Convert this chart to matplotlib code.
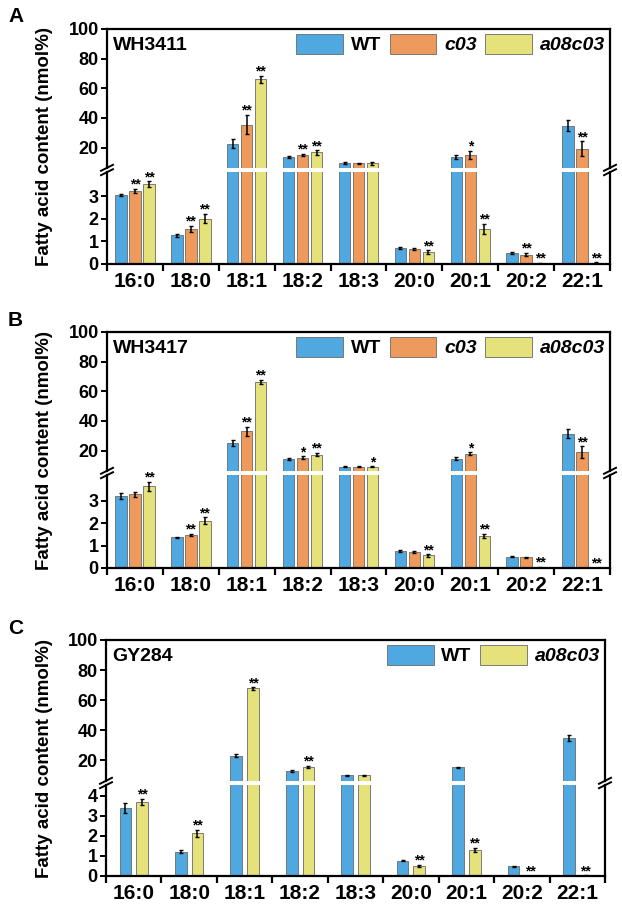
import matplotlib
matplotlib.use('Agg')
import matplotlib.pyplot as plt
import numpy as np
from matplotlib.lines import Line2D

plt.rcParams['font.family'] = ['Liberation Sans', 'DejaVu Sans']
plt.rcParams['font.weight'] = 'bold'

cats = ['16:0', '18:0', '18:1', '18:2', '18:3', '20:0', '20:1', '20:2', '22:1']

# panel A - WH3411
wt_a = [3.05, 1.27, 22.7, 13.6, 9.6, 0.70, 13.5, 0.48, 34.8]
wt_a_err = [0.05, 0.08, 3.0, 0.8, 0.5, 0.04, 1.5, 0.04, 3.5]
c03_a = [3.25, 1.56, 35.5, 14.9, 9.4, 0.67, 15.1, 0.42, 19.1]
c03_a_err = [0.10, 0.12, 6.5, 0.8, 0.5, 0.05, 2.5, 0.07, 5.0]
a08_a = [3.55, 2.02, 66.0, 16.7, 9.5, 0.53, 1.56, 0.03, 0.05]
a08_a_err = [0.12, 0.22, 2.5, 1.5, 1.0, 0.08, 0.22, 0.02, 0.02]
c03_a_sig = ['**', '**', '**', '**', '', '', '*', '**', '**']
a08_a_sig = ['**', '**', '**', '**', '', '**', '**', '**', '**']

# panel B - WH3417
wt_b = [3.20, 1.37, 24.9, 14.5, 9.1, 0.76, 14.5, 0.50, 31.3]
wt_b_err = [0.12, 0.03, 2.0, 0.8, 0.3, 0.04, 1.0, 0.03, 3.0]
c03_b = [3.27, 1.47, 32.9, 15.3, 9.1, 0.71, 18.0, 0.48, 18.9]
c03_b_err = [0.12, 0.05, 3.0, 0.8, 0.3, 0.04, 0.8, 0.03, 4.0]
a08_b = [3.64, 2.10, 66.1, 17.3, 9.1, 0.56, 1.43, 0.03, 0.0]
a08_b_err = [0.20, 0.15, 1.5, 1.2, 0.3, 0.05, 0.10, 0.01, 0.0]
c03_b_sig = ['', '**', '**', '*', '', '', '*', '', '**']
a08_b_sig = ['**', '**', '**', '**', '*', '**', '**', '**', '**']

# panel C - GY284
wt_c = [3.37, 1.22, 23.1, 12.7, 9.9, 0.77, 15.2, 0.49, 34.8]
wt_c_err = [0.25, 0.07, 1.2, 0.5, 0.4, 0.03, 0.5, 0.02, 2.0]
a08_c = [3.68, 2.13, 67.8, 15.6, 10.1, 0.50, 1.30, 0.0, 0.02]
a08_c_err = [0.15, 0.18, 0.8, 0.8, 0.3, 0.06, 0.12, 0.0, 0.01]
a08_c_sig = ['**', '**', '**', '**', '', '**', '**', '**', '**']

col_wt = '#4FA9E0'
col_c03 = '#EE9A5C'
col_a08 = '#E5E27C'
edge = '#6a6a6a'

W, H = 622, 915
fig = plt.figure(figsize=(W / 100, H / 100), dpi=100)


def fy(py):
    return 1 - py / H


def brk_mark(xpx, ypx):
    for d in (-2.2, 2.2):
        fig.add_artist(Line2D([(xpx - 6) / W, (xpx + 6) / W],
                              [fy(ypx + d + 3), fy(ypx + d - 3)],
                              color='black', lw=1.4))


def panel(letter, strain, top, brk, bot, left, right, lo_top, lo_ticks, series):
    gap = 1.7
    ax_up = fig.add_axes([left / W, fy(brk - gap), (right - left) / W, (brk - gap - top) / H])
    ax_lo = fig.add_axes([left / W, fy(bot), (right - left) / W, (bot - brk - gap) / H])
    x = np.arange(len(cats))
    n = len(series)
    if n == 3:
        offs, bw = [-0.25, 0, 0.25], 0.205
    else:
        offs, bw = [-0.15, 0.15], 0.21
    for (vals, errs, sig, col, lab), off in zip(series, offs):
        for ax in (ax_up, ax_lo):
            ax.bar(x + off, vals, bw, color=col, edgecolor=edge, linewidth=0.6,
                   label=lab if ax is ax_up else None)
            ax.errorbar(x + off, vals, yerr=errs, fmt='none', ecolor='black',
                        elinewidth=1.1, capsize=1.5, capthick=1.0)
        if sig is None:
            continue
        for i, s in enumerate(sig):
            if not s:
                continue
            t = vals[i] + errs[i]
            ax = ax_up if t > lo_top else ax_lo
            ax.annotate(s, (x[i] + off, t), xytext=(0, -2), textcoords='offset points',
                        ha='center', va='bottom', fontsize=10, fontweight='bold')

    for ax in (ax_up, ax_lo):
        ax.set_xlim(-0.5, len(cats) - 0.5)
        for sp in ax.spines.values():
            sp.set_linewidth(1.6)
        ax.tick_params(axis='y', direction='out', length=4, width=1.4, labelsize=13, pad=2)
    ax_up.set_ylim(6, 100)
    ax_up.set_yticks([20, 40, 60, 80, 100])
    ax_up.spines['bottom'].set_visible(False)
    ax_up.set_xticks([])
    ax_lo.set_ylim(0, lo_top)
    ax_lo.set_yticks(lo_ticks)
    ax_lo.spines['top'].set_visible(False)
    ax_lo.set_xticks(x)
    ax_lo.set_xticklabels(cats, fontsize=15, fontweight='bold')
    ax_lo.set_xticks(np.arange(-0.5, len(cats), 1.0), minor=True)
    ax_lo.tick_params(axis='x', which='major', length=0, pad=6)
    ax_lo.tick_params(axis='x', which='minor', direction='out', length=5, width=1.6)

    leg = ax_up.legend(loc='upper right', bbox_to_anchor=(1.0, 1.0), ncol=n, frameon=False,
                       prop={'size': 14, 'weight': 'bold'}, handlelength=2.4, handleheight=1.2,
                       handletextpad=0.4, columnspacing=0.45, borderaxespad=0.15, borderpad=0.1)
    for t in leg.get_texts():
        if t.get_text() != 'WT':
            t.set_style('italic')
    ax_up.text(0.012, 0.88, strain, transform=ax_up.transAxes, fontsize=14,
               fontweight='bold', va='center', ha='left')

    brk_mark(left, brk)
    brk_mark(right, brk)
    fig.text(45 / W, fy((top + bot) / 2), 'Fatty acid content (nmol%)', rotation=90,
             ha='center', va='center', fontsize=13.5, fontweight='bold')
    fig.text(8 / W, fy(top - 12), letter, fontsize=15, fontweight='bold', ha='left', va='center')


panel('A', 'WH3411', 29, 170, 264, 107, 610, 4.1, [0, 1, 2, 3],
      [(wt_a, wt_a_err, None, col_wt, 'WT'),
       (c03_a, c03_a_err, c03_a_sig, col_c03, 'c03'),
       (a08_a, a08_a_err, a08_a_sig, col_a08, 'a08c03')])
panel('B', 'WH3417', 332, 473, 568, 107, 610, 4.15, [0, 1, 2, 3],
      [(wt_b, wt_b_err, None, col_wt, 'WT'),
       (c03_b, c03_b_err, c03_b_sig, col_c03, 'c03'),
       (a08_b, a08_b_err, a08_b_sig, col_a08, 'a08c03')])
panel('C', 'GY284', 640, 783, 876, 106, 605, 4.55, [0, 1, 2, 3, 4],
      [(wt_c, wt_c_err, None, col_wt, 'WT'),
       (a08_c, a08_c_err, a08_c_sig, col_a08, 'a08c03')])

fig.savefig('out.png', dpi=100)
